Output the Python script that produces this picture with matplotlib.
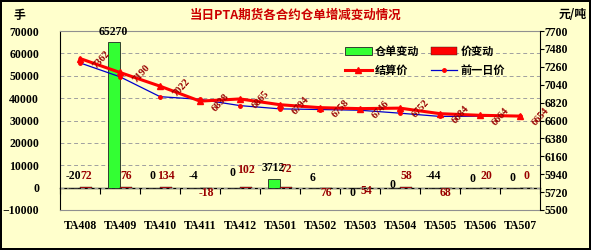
import numpy as np
import matplotlib
matplotlib.use("Agg")
import matplotlib.pyplot as plt

# contract months
categories = ["TA408", "TA409", "TA410", "TA411", "TA412", "TA501",
              "TA502", "TA503", "TA504", "TA505", "TA506", "TA507"]
# warehouse receipt change (lots)
wh_change = [-20, 65270, 0, -4, 0, 3712, 6, 0, 0, -44, 0, 0]
# price change and its label text as printed on the chart
price_change = [72, 76, 134, -18, 102, 72, -76, -54, 58, -68, 20, 0]
price_labels = ["72", "76", "134", "-18", "102", "72", "76", "54", "58", "68", "20", "0"]
# settlement price and previous-day price (yuan/ton)
settle = [7362, 7190, 7022, 6838, 6865, 6794, 6758, 6746, 6752, 6684, 6664, 6654]
prev_price = [7308, 7137, 6893, 6860, 6783, 6743, 6735, 6726, 6690, 6650, 6653, 6653]

# label offsets in pixels (layout only)
wh_dy = [12, 10, 12, 12, 15, 11, 10, -5, 3, 12, 9, 10]
pc_dy = [12, 12, 12, -5, 18, 19, -5, -3, 12, -5, 12, 12]

BG = "#FFFFCC"
DARKRED = "#990000"
CJK = ["Noto Sans CJK SC", "DejaVu Sans"]
NUM = "Liberation Serif"
PT = 0.72  # points per pixel at 100 dpi

fig = plt.figure(figsize=(5.91, 2.5), dpi=100, facecolor=BG,
                 edgecolor="black", linewidth=1.5)
ax = fig.add_axes([60 / 591, 1 - 210 / 250, 480 / 591, 179 / 250])
ax.set_facecolor(BG)
ax2 = ax.twinx()

x = np.arange(len(categories))
bw = 0.3
b1 = ax.bar(x - bw / 2, wh_change, bw, color="#33FF33", edgecolor="#222222",
            linewidth=0.6, label="仓单变动", zorder=2)
b2 = ax.bar(x + bw / 2, price_change, bw, color="red", edgecolor="#222222",
            linewidth=0.3, label="价变动", zorder=2)

ax.set_xlim(-0.5, len(categories) - 0.5)
ax.set_ylim(-10000, 70000)
ax.set_yticks(np.arange(-10000, 70001, 10000))
ax.yaxis.grid(True, linestyle=(0, (4, 3)), color="#A0A0A0", linewidth=0.7)
ax.set_axisbelow(True)
ax.set_xticks(x, categories)
ax.tick_params(axis="x", length=0, pad=7)
ax.tick_params(axis="y", length=0, pad=15)
for lab in ax.get_xticklabels() + ax.get_yticklabels():
    lab.set_fontfamily(NUM)
    lab.set_fontweight("bold")
    lab.set_fontsize(8.5)

for s in ["top", "bottom"]:
    ax.spines[s].set_color("#909090")
ax.spines["left"].set_color("black")
ax.spines["right"].set_visible(False)

# zero line with category boundary ticks
zloc = (0 - ax.get_ylim()[0]) / (ax.get_ylim()[1] - ax.get_ylim()[0])
sec = ax.secondary_xaxis(zloc)
sec.set_xticks(np.arange(len(categories) + 1) - 0.5, labels=[])
sec.tick_params(length=4, width=0.8, direction="out", color="black")
sec.spines["bottom"].set_color("black")
sec.spines["bottom"].set_linewidth(1)

# right axis: prices
l1, = ax2.plot(x, settle, color="red", linewidth=2.2, marker="^", markersize=5,
               label="结算价", zorder=4)
l2, = ax2.plot(x, prev_price, color="#0000CC", linewidth=0.9, marker="o",
               markersize=2.5, markerfacecolor="red", markeredgecolor="red",
               label="前一日价", zorder=3)
ax2.set_ylim(5500, 7700)
ax2.set_yticks(np.arange(5500, 7701, 220))
ax2.tick_params(axis="y", length=3, direction="out", pad=0.5)
for lab in ax2.get_yticklabels():
    lab.set_fontfamily(NUM)
    lab.set_fontweight("bold")
    lab.set_fontsize(8.5)
for s in ["left", "top", "bottom"]:
    ax2.spines[s].set_visible(False)
ax2.spines["right"].set_color("black")

# bar value labels
for i, v in enumerate(wh_change):
    ax.annotate(str(v), (x[i] - bw / 2, max(v, 0)), xytext=(-1 * PT, wh_dy[i] * PT),
                textcoords="offset points", ha="center", va="center",
                fontsize=8.5, fontweight="bold", fontfamily=NUM, color="black",
                zorder=5)
for i, t in enumerate(price_labels):
    ax.annotate(t, (x[i] + bw / 2, 0), xytext=(0, pc_dy[i] * PT),
                textcoords="offset points", ha="center", va="center",
                fontsize=8.5, fontweight="bold", fontfamily=NUM, color=DARKRED,
                zorder=5)

# settlement price labels
for i, v in enumerate(settle):
    ax2.annotate(str(v), (x[i], v), xytext=(21 * PT, -1 * PT),
                 textcoords="offset points", ha="center", va="center",
                 rotation=48, fontsize=7.5, fontweight="bold",
                 fontfamily=NUM, color=DARKRED, zorder=6)

leg = ax2.legend([b1, l1, b2, l2], ["仓单变动", "结算价", "价变动", "前一日价"],
                 ncol=2, loc="upper left",
                 bbox_to_anchor=(345 / 591, 1 - 45 / 250),
                 bbox_transform=fig.transFigure, frameon=False,
                 prop={"family": CJK, "weight": "bold", "size": 8},
                 handlelength=2.4, handletextpad=0.3, columnspacing=1.0,
                 labelspacing=0.5, borderpad=0, borderaxespad=0)

fig.text(296 / 591, 1 - 15 / 250, "当日PTA期货各合约仓单增减变动情况",
         ha="center", va="center", fontsize=9, fontweight="bold",
         color="#CC0000", family=CJK)
fig.text(13 / 591, 1 - 15 / 250, "手", ha="left", va="center", fontsize=8.5,
         fontweight="bold", family=CJK)
fig.text(573 / 591, 1 - 15 / 250, "元/吨", ha="center", va="center",
         fontsize=8.5, fontweight="bold", family=CJK)

fig.savefig("out.png", dpi=100, facecolor=fig.get_facecolor(),
            edgecolor=fig.get_edgecolor())
